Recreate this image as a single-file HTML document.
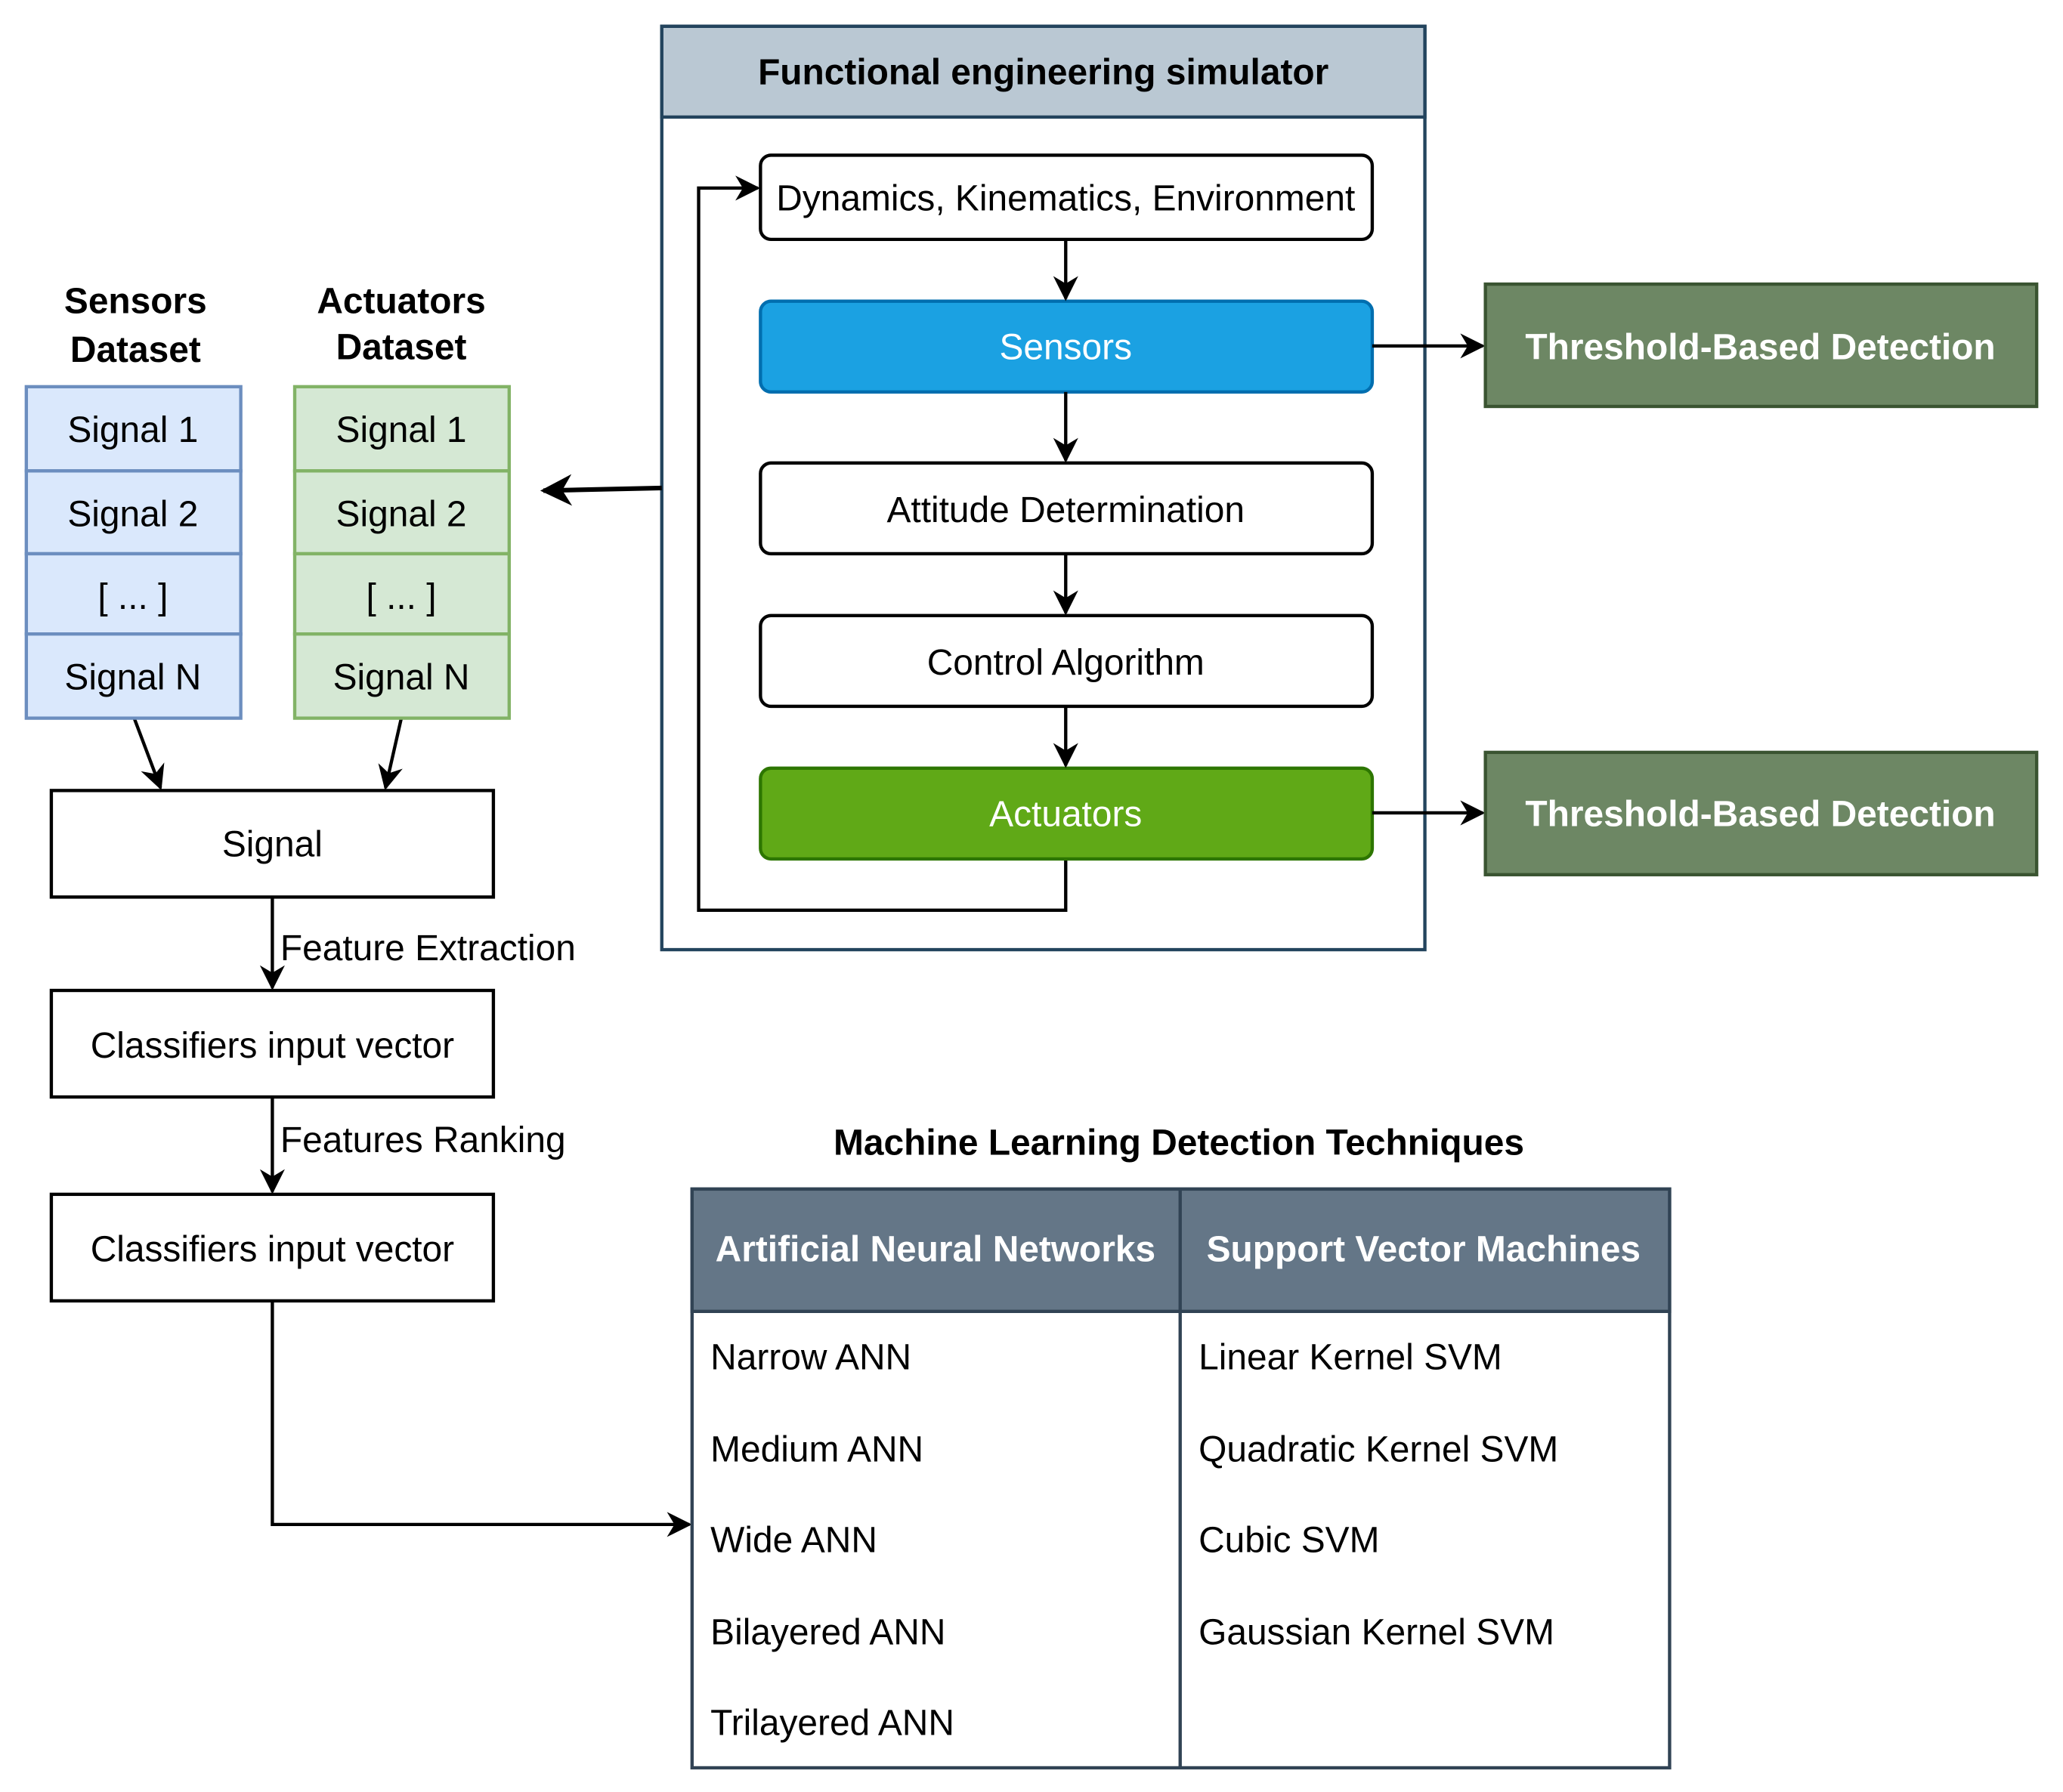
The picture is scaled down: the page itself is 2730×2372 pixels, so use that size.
<!DOCTYPE html>
<html><head><meta charset="utf-8"><style>html,body{margin:0;padding:0;background:#fff}svg{display:block}</style></head><body>
<svg width="2730" height="2372" viewBox="0 0 1568 1362.4" xmlns="http://www.w3.org/2000/svg" font-family="Liberation Sans, Arial, sans-serif">
<defs>
<marker id="a" viewBox="0 0 10 10" refX="9" refY="5" markerWidth="19" markerHeight="19" markerUnits="userSpaceOnUse" orient="auto"><path d="M0,0 L10,5 L0,10 L3,5 z" fill="#000"/></marker>
<marker id="b" viewBox="0 0 10 10" refX="9" refY="5" markerWidth="24" markerHeight="24" markerUnits="userSpaceOnUse" orient="auto"><path d="M0,0 L10,5 L0,10 L3,5 z" fill="#000"/></marker>
</defs>
<g font-size="27.5" text-anchor="middle">
<rect x="503" y="20" width="580" height="702" fill="#fff" stroke="#23445d" stroke-width="2.5"/>
<rect x="503" y="20" width="580" height="69" fill="#bac8d3" stroke="#23445d" stroke-width="2.5"/>
<text x="793" y="64" font-weight="bold">Functional engineering simulator</text>
<path d="M810,653 V692 H531 V143 H576" fill="none" stroke="#000" stroke-width="2.5" marker-end="url(#a)"/>
<rect x="578" y="118" width="465" height="64" rx="8" fill="#fff" stroke="#000" stroke-width="2.5"/>
<text x="810" y="160">Dynamics, Kinematics, Environment</text>
<rect x="578" y="229" width="465" height="69" rx="8" fill="#1ba1e2" stroke="#006eaf" stroke-width="2.5"/>
<text x="810" y="273" fill="#fff">Sensors</text>
<rect x="578" y="352" width="465" height="69" rx="8" fill="#fff" stroke="#000" stroke-width="2.5"/>
<text x="810" y="397">Attitude Determination</text>
<rect x="578" y="468" width="465" height="69" rx="8" fill="#fff" stroke="#000" stroke-width="2.5"/>
<text x="810" y="513">Control Algorithm</text>
<rect x="578" y="584" width="465" height="69" rx="8" fill="#60a917" stroke="#2d7600" stroke-width="2.5"/>
<text x="810" y="628" fill="#fff">Actuators</text>
<g stroke="#000" stroke-width="2.5" fill="none" marker-end="url(#a)">
<path d="M810,182 V227"/><path d="M810,298 V350"/><path d="M810,421 V466"/><path d="M810,537 V582"/>
<path d="M1043,263 H1127"/><path d="M1043,618 H1127"/>
<path d="M102,546 L122,599"/><path d="M305,546 L293,599"/>
<path d="M207,682 V751"/><path d="M207,834 V906"/>
<path d="M207,989 V1159 H524"/>
</g>
<path d="M503,371 L413,373" stroke="#000" stroke-width="3.5" fill="none" marker-end="url(#b)"/>
<rect x="1129" y="216" width="419" height="93" fill="#6d8764" stroke="#3a5431" stroke-width="2.5"/>
<text x="1338" y="273" fill="#fff" font-weight="bold">Threshold-Based Detection</text>
<rect x="1129" y="572" width="419" height="93" fill="#6d8764" stroke="#3a5431" stroke-width="2.5"/>
<text x="1338" y="628" fill="#fff" font-weight="bold">Threshold-Based Detection</text>
<text x="103" y="238" font-weight="bold">Sensors</text>
<text x="103" y="275" font-weight="bold">Dataset</text>
<text x="305" y="238" font-weight="bold">Actuators</text>
<text x="305" y="273" font-weight="bold">Dataset</text>
<g stroke="#6c8ebf" stroke-width="2.5" fill="#dae8fc">
<rect x="20" y="294" width="163" height="64"/><rect x="20" y="358" width="163" height="63"/><rect x="20" y="421" width="163" height="61"/><rect x="20" y="482" width="163" height="64"/>
</g>
<g stroke="#82b366" stroke-width="2.5" fill="#d5e8d4">
<rect x="224" y="294" width="163" height="64"/><rect x="224" y="358" width="163" height="63"/><rect x="224" y="421" width="163" height="61"/><rect x="224" y="482" width="163" height="64"/>
</g>
<text x="101" y="336">Signal 1</text><text x="101" y="400">Signal 2</text><text x="101" y="463">[ ... ]</text><text x="101" y="524">Signal N</text>
<text x="305" y="336">Signal 1</text><text x="305" y="400">Signal 2</text><text x="305" y="463">[ ... ]</text><text x="305" y="524">Signal N</text>
<rect x="39" y="601" width="336" height="81" fill="#fff" stroke="#000" stroke-width="2.5"/>
<text x="207" y="651">Signal</text>
<rect x="39" y="753" width="336" height="81" fill="#fff" stroke="#000" stroke-width="2.5"/>
<text x="207" y="804">Classifiers input vector</text>
<rect x="39" y="908" width="336" height="81" fill="#fff" stroke="#000" stroke-width="2.5"/>
<text x="207" y="959">Classifiers input vector</text>
<text x="213" y="730" text-anchor="start">Feature Extraction</text>
<text x="213" y="876" text-anchor="start">Features Ranking</text>
<text x="896" y="878" font-weight="bold">Machine Learning Detection Techniques</text>
<rect x="526" y="904" width="743" height="440" fill="#fff" stroke="#314354" stroke-width="2.5"/>
<rect x="526" y="904" width="743" height="93" fill="#647687" stroke="#314354" stroke-width="2.5"/>
<line x1="897" y1="904" x2="897" y2="1344" stroke="#314354" stroke-width="2.5"/>
<text x="711" y="959" fill="#fff" font-weight="bold">Artificial Neural Networks</text>
<text x="1082" y="959" fill="#fff" font-weight="bold">Support Vector Machines</text>
<g text-anchor="start">
<text x="540" y="1041">Narrow ANN</text><text x="540" y="1111">Medium ANN</text><text x="540" y="1180">Wide ANN</text><text x="540" y="1250">Bilayered ANN</text><text x="540" y="1319">Trilayered ANN</text>
<text x="911" y="1041">Linear Kernel SVM</text><text x="911" y="1111">Quadratic Kernel SVM</text><text x="911" y="1180">Cubic SVM</text><text x="911" y="1250">Gaussian Kernel SVM</text>
</g>
</g>
</svg>
</body></html>
